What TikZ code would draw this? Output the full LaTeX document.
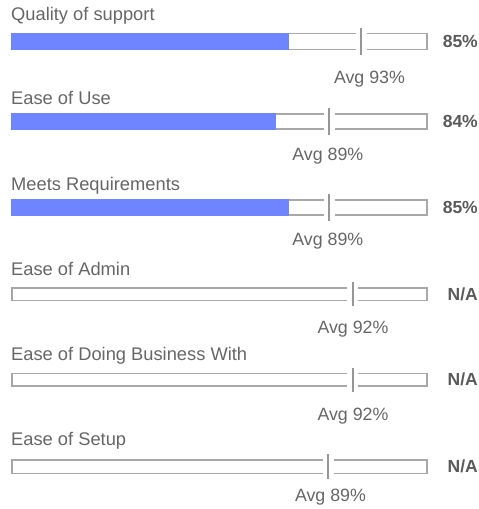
\documentclass[tikz,border=0pt]{standalone}
\usepackage{fontspec}
\setmainfont{Liberation Sans}
\definecolor{labgrey}{RGB}{102,102,102}
\definecolor{valgrey}{RGB}{90,90,90}
\definecolor{bordgrey}{RGB}{168,168,168}
\definecolor{markgrey}{RGB}{150,150,150}
\definecolor{barblue}{RGB}{111,132,255}
\begin{document}
\begin{tikzpicture}[x=1pt,y=-1pt,
  lab/.style={anchor=base west,inner sep=0pt,text=labgrey,font=\fontsize{18.3}{20}\selectfont},
  avgtxt/.style={anchor=base,inner sep=0pt,text=labgrey,font=\fontsize{17.8}{20}\selectfont},
  val/.style={anchor=base east,inner sep=0pt,text=valgrey,font=\bfseries\fontsize{17.5}{20}\selectfont},
  barline/.style={draw=bordgrey,line width=1.5pt},
  markline/.style={draw=markgrey,line width=2pt},
  bluefill/.style={fill=barblue}]
\useasboundingbox (0,0) rectangle (479,509);
\foreach \n/\lb/\lt/\bt/\bb/\f/\m/\ax/\ab/\at/\v in {
  1/20/Quality of support/32.7/50/288.7/361/369.5/83/Avg 93\%/85\%,
  2/104.5/Ease of Use/113/129.5/276/329/327.8/160/Avg 89\%/84\%,
  3/190/Meets Requirements/199/215.7/288.7/329/327.8/245.7/Avg 89\%/85\%,
  4/275.7/Ease of Admin/287/301/11/352.7/353/333/Avg 92\%/{N/A},
  5/360.7/Ease of Doing Business With/372.5/386.5/11/352.7/353/420/Avg 92\%/{N/A},
  6/445.7/Ease of Setup/459.3/474/11/328.3/330.5/501.7/Avg 89\%/{N/A}}
{
  \node[lab] (label\n) at (11,\lb) {\lt};
  \draw[barline] ({\m-5.5},{\bt+0.75}) -| (11.75,{\bb-0.75}) -- ({\m-5.5},{\bb-0.75});
  \draw[barline] ({\m+5.5},{\bt+0.75}) -| (427,{\bb-0.75}) -- ({\m+5.5},{\bb-0.75});
  \fill[bluefill] (11,\bt) rectangle (\f,\bb);
  \coordinate (mt\n) at (\m,{\bt-5});
  \coordinate (mb\n) at (\m,{\bb+5});
  \draw[markline] (mt\n) -- (mb\n);
  \node[avgtxt] (avg\n) at (\ax,\ab) {\at};
  \node[val] (val\n) at (478,{(\bt+\bb)/2+6.3}) {\v};
}
\end{tikzpicture}
\end{document}
